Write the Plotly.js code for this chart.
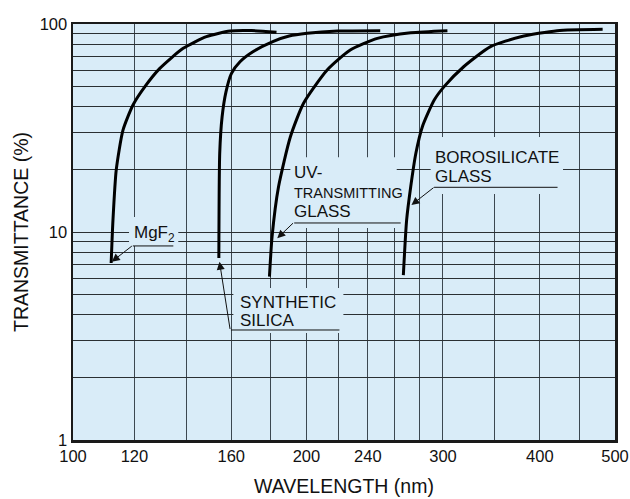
<!DOCTYPE html>
<html>
<head>
<meta charset="utf-8">
<script src="https://cdn.plot.ly/plotly-3.0.1.min.js"></script>
<style>html,body{margin:0;padding:0;background:#fff;}#chart{width:630px;height:499px;}</style>
</head>
<body>
<div id="chart"></div>
<script>
// Wavelength (nm) and transmittance (%)
const mgf2Wavelength = [112, 112.6, 113.7, 116, 119.5, 123.8, 129.4, 138.7, 148.6, 159.4, 170, 183];
const mgf2Transmittance = [7.1, 11.4, 19.9, 30.9, 40.8, 50, 61.2, 76.4, 86.9, 92.5, 93, 91.2];

const silicaWavelength = [154.2, 154.6, 155.7, 157.5, 160.1, 164.2, 170.8, 181.3, 190, 200.4, 219.3, 249];
const silicaTransmittance = [7.5, 23.9, 35.8, 47.2, 57.9, 65.8, 73.7, 82.5, 87.5, 90.2, 92.5, 92.9];

const uvGlassWavelength = [179.2, 180.6, 184.1, 190.7, 198.3, 212.7, 227.8, 246.9, 272.6, 304];
const uvGlassTransmittance = [6.1, 9.5, 16.5, 28.7, 41.6, 60.1, 75, 85.3, 90.8, 92.9];

const boroWavelength = [266.7, 269.3, 272.6, 276.8, 282.2, 292.3, 301, 319, 345.5, 378, 421, 482];
const boroTransmittance = [6.2, 11.4, 16.5, 23.9, 32.1, 43.1, 50, 62.3, 77.8, 86.9, 92.9, 94.3];

const xTickValues = [100, 120, 140, 160, 180, 200, 220, 240, 260, 280, 300, 350, 400, 450, 500];
const xTickLabels = ['100', '120', '', '160', '', '200', '', '240', '', '', '300', '', '400', '', '500'];
const yTickValues = [1, 2, 3, 4, 5, 6, 7, 8, 9, 10, 20, 30, 40, 50, 60, 70, 80, 90, 100];
const yTickLabels = ['1', '', '', '', '', '', '', '', '', '10', '', '', '', '', '', '', '', '', '100'];

const FONT = 'Liberation Sans, Arial, Helvetica, sans-serif';
const BG = '#d9ecf8';

function curve(x, y) {
  return {x: x, y: y, type: 'scatter', mode: 'lines',
    line: {color: '#000', width: 3, shape: 'spline', smoothing: 0.6},
    hoverinfo: 'skip', showlegend: false};
}
const traces = [
  curve(mgf2Wavelength, mgf2Transmittance),
  curve(silicaWavelength, silicaTransmittance),
  curve(uvGlassWavelength, uvGlassTransmittance),
  curve(boroWavelength, boroTransmittance)
];

const L = Math.log10;
// label background panels that hide the grid behind the callout text
function panel(x0, x1, y0, y1) {
  return {type: 'rect', xref: 'x', yref: 'y', x0: x0, x1: x1, y0: y0, y1: y1,
    fillcolor: BG, line: {width: 0}, layer: 'above'};
}
const shapes = [
  panel(118.1, 136.7, 8.56, 11.8),
  panel(161.0, 223.2, 3.27, 5.38),
  panel(190.7, 261.5, 10.44, 22.9),
  panel(289.2, 428.5, 15.23, 28.6)
];

function label(x, y, t, size) {
  return {x: L(x), y: L(y), xref: 'x', yref: 'y', text: t, showarrow: false,
    xanchor: 'left', yanchor: 'middle', borderpad: 0,
    font: {family: FONT, size: size || 17, color: '#111'}};
}
function seg(x, y, ax, ay, head) {
  return {x: L(x), y: L(y), xref: 'x', yref: 'y', text: ' ', showarrow: true,
    ax: ax, ay: ay, arrowhead: head ? 2 : 0, arrowsize: head ? 1.6 : 1, arrowwidth: 1,
    arrowcolor: '#111', standoff: 0, startstandoff: 0, font: {size: 1}, borderpad: 0};
}

const annotations = [
  label(119.5, 9.78, 'MgF<sub>2</sub>'),
  label(163.9, 4.56, 'SYNTHETIC'),
  label(163.9, 3.77, 'SILICA'),
  label(192.4, 19.3, 'UV-'),
  label(192.4, 15.4, 'TRANSMITTING', 14.5),
  label(192.4, 12.5, 'GLASS'),
  label(291.9, 22.9, 'BOROSILICATE'),
  label(291.9, 18.45, 'GLASS'),
  // underlines
  seg(134.7, 8.57, -41, 0, false),
  seg(220.6, 3.38, -109, 0, false),
  seg(264.6, 11.05, -107, 0, false),
  seg(421.6, 16.4, -124, 0, false),
  // pointer arrows
  seg(112.2, 7.20, 20.6, -16, true),
  seg(154.5, 7.20, 10.7, 68.3, true),
  seg(183.4, 9.33, 16.3, -15.6, true),
  seg(273.2, 13.49, 22.6, -17.7, true)
];

const layout = {
  width: 630, height: 499,
  margin: {l: 73, r: 15, t: 24, b: 59},
  paper_bgcolor: '#ffffff',
  plot_bgcolor: BG,
  font: {family: FONT, color: '#111'},
  showlegend: false,
  xaxis: {
    type: 'log', range: [2, L(500)],
    tickmode: 'array', tickvals: xTickValues, ticktext: xTickLabels,
    ticks: '', showgrid: true, gridcolor: '#3c4750', gridwidth: 1,
    showline: true, mirror: true, linecolor: '#1a1a1a', linewidth: 2.5,
    zeroline: false, tickfont: {size: 16.5, color: '#111'},
    title: {text: 'WAVELENGTH (nm)', font: {size: 19.5, color: '#111'}, standoff: 15}
  },
  yaxis: {
    type: 'log', range: [0, 2],
    tickmode: 'array', tickvals: yTickValues, ticktext: yTickLabels,
    ticks: '', showgrid: true, gridcolor: '#2a2f33', gridwidth: 1,
    showline: true, mirror: true, linecolor: '#1a1a1a', linewidth: 2.5,
    zeroline: false, tickfont: {size: 16.5, color: '#111'},
    title: {text: 'TRANSMITTANCE (%)', font: {size: 19.5, color: '#111'}, standoff: 6}
  },
  shapes: shapes,
  annotations: annotations
};

Plotly.newPlot('chart', traces, layout, {staticPlot: true, displayModeBar: false});
</script>
</body>
</html>
